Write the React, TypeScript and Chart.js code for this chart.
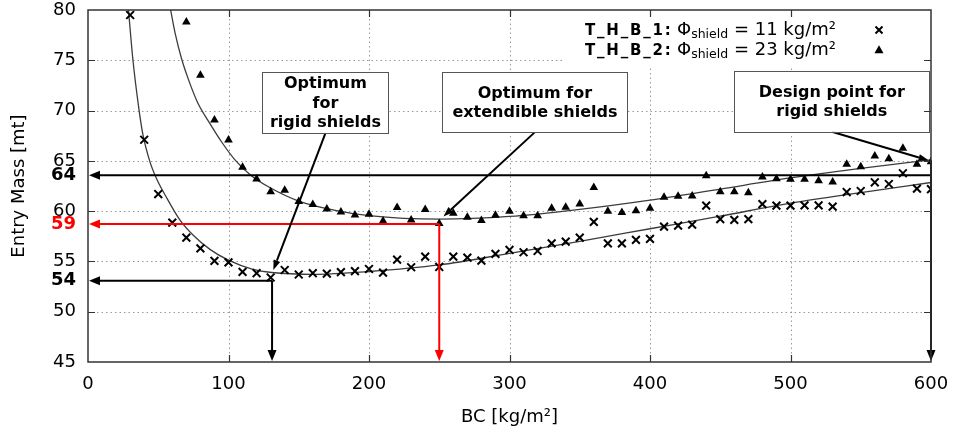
import React, { useEffect, useRef } from 'react';
import { Chart, registerables } from 'chart.js';

Chart.register(...registerables);

const FONT = "'DejaVu Sans', sans-serif";

// T_H_B_1 : Φshield = 11 kg/m² (× markers)
const bcShield11 = [30, 40, 50, 60, 70, 80, 90, 100, 110, 120, 130, 140, 150, 160, 170, 180, 190, 200, 210, 220, 230, 240, 250, 260, 270, 280, 290, 300, 310, 320, 330, 340, 350, 360, 370, 380, 390, 400, 410, 420, 430, 440, 450, 460, 470, 480, 490, 500, 510, 520, 530, 540, 550, 560, 570, 580, 590, 600];
const massShield11 = [79.5, 67.1, 61.7, 58.86, 57.37, 56.3, 55.05, 54.9, 53.96, 53.83, 53.4, 54.15, 53.7, 53.83, 53.79, 53.93, 54.03, 54.25, 53.89, 55.18, 54.42, 55.48, 54.45, 55.48, 55.38, 55.08, 55.75, 56.14, 55.91, 56.04, 56.8, 56.97, 57.37, 58.93, 56.8, 56.8, 57.14, 57.24, 58.46, 58.56, 58.66, 60.55, 59.2, 59.13, 59.2, 60.7, 60.55, 60.55, 60.58, 60.58, 60.45, 61.9, 62.0, 62.87, 62.7, 63.77, 62.24, 62.18];

// T_H_B_2 : Φshield = 23 kg/m² (▲ markers)
const bcShield23 = [70, 80, 90, 100, 110, 120, 130, 140, 150, 160, 170, 180, 190, 200, 210, 220, 230, 240, 250, 260, 270, 280, 290, 300, 310, 320, 330, 340, 350, 360, 370, 380, 390, 400, 410, 420, 430, 440, 450, 460, 470, 480, 490, 500, 510, 520, 530, 540, 550, 560, 570, 580, 590, 600];
const massShield23 = [78.8, 73.5, 69.07, 67.08, 64.36, 63.2, 61.94, 62.08, 60.95, 60.65, 60.22, 59.92, 59.62, 59.69, 59.03, 60.35, 59.13, 60.16, 58.76, 59.79, 59.39, 59.07, 59.59, 59.98, 59.55, 59.55, 60.29, 60.39, 60.72, 62.34, 59.98, 59.87, 60.05, 60.28, 61.38, 61.48, 61.51, 63.53, 61.94, 61.94, 61.84, 63.4, 63.23, 63.17, 63.17, 63.03, 62.9, 64.66, 64.42, 65.49, 65.22, 66.25, 64.66, 64.9];

// fitted curves
const fitBc11 = [28.8, 32.0, 35.9, 39.1, 44.1, 48.9, 55.3, 65.5, 74.9, 86.8, 99.6, 117.4, 130.7, 160, 200, 250, 300, 350, 400, 450, 500, 550, 600];
const fitMass11 = [80, 75, 70.5, 67.6, 64.9, 63.2, 61.5, 59.1, 57.6, 56.2, 55.15, 54.2, 53.9, 53.72, 54.0, 54.65, 55.8, 57.0, 58.25, 59.5, 60.8, 61.85, 62.85];
const fitBc23 = [58.8, 62, 66.5, 70.7, 78, 86.8, 95, 104.6, 116.5, 130, 150, 175, 200, 250, 300, 350, 400, 450, 500, 550, 600];
const fitMass23 = [80, 77.7, 75.2, 73.4, 70.8, 68.7, 66.9, 65.1, 63.5, 62.3, 61.0, 60.1, 59.55, 59.2, 59.47, 60.18, 61.1, 62.2, 63.3, 64.25, 65.1];

// axes
const xTickValues = [0, 100, 200, 300, 400, 500, 600];
const yTickValues = [45, 50, 55, 60, 65, 70, 75, 80];

// reference lines (marked optimum / design values)
const refMass = [63.56, 58.72, 53.08];
const refLabels = ['64', '59', '54'];
const refBc = [600, 250, 131];
const refTopMass = [65.05, 58.72, 53.08];
const refColors = ['#000000', '#ff0000', '#000000'];

// annotation boxes
const noteLines = [['Optimum', 'for', 'rigid shields'], ['Optimum for', 'extendible shields'], ['Design point for', 'rigid shields']];
const noteBc = [169.0, 318.1, 529.4];
const noteMass = [70.79, 70.84, 70.92];
const noteW = [126, 185, 195];
const noteH = [61, 60, 61];
const noteTipBc = [131.9, 253, 598.2];
const noteTipMass = [54.15, 59.47, 65.05];

// legend
const legendIds = ['T_H_B_1:', 'T_H_B_2:'];
const legendVals = [' = 11 kg/m²', ' = 23 kg/m²'];

function arrow(ctx: CanvasRenderingContext2D, x1: number, y1: number, x2: number, y2: number, color: string, lw: number, hl: number, hw: number) {
  const ang = Math.atan2(y2 - y1, x2 - x1);
  const bx = x2 - Math.cos(ang) * hl;
  const by = y2 - Math.sin(ang) * hl;
  ctx.strokeStyle = color;
  ctx.lineWidth = lw;
  ctx.setLineDash([]);
  ctx.beginPath();
  ctx.moveTo(x1, y1);
  ctx.lineTo(bx, by);
  ctx.stroke();
  ctx.fillStyle = color;
  ctx.beginPath();
  ctx.moveTo(x2, y2);
  ctx.lineTo(bx + Math.sin(ang) * hw / 2, by - Math.cos(ang) * hw / 2);
  ctx.lineTo(bx - Math.sin(ang) * hw / 2, by + Math.cos(ang) * hw / 2);
  ctx.closePath();
  ctx.fill();
}

const overlay = {
  id: 'overlay',
  beforeDatasetsDraw(chart: any) {
    const { ctx, chartArea: a, scales } = chart;
    const x = scales.x, y = scales.y;
    ctx.save();
    ctx.strokeStyle = '#9a9a9a';
    ctx.lineWidth = 1;
    ctx.setLineDash([1.5, 3]);
    xTickValues.slice(1, -1).forEach((v) => {
      const px = Math.round(x.getPixelForValue(v)) + 0.5;
      ctx.beginPath();
      ctx.moveTo(px, a.top);
      ctx.lineTo(px, a.bottom);
      ctx.stroke();
    });
    yTickValues.slice(1, -1).forEach((v) => {
      const py = Math.round(y.getPixelForValue(v)) + 0.5;
      ctx.beginPath();
      ctx.moveTo(a.left, py);
      ctx.lineTo(a.right, py);
      ctx.stroke();
    });
    ctx.restore();
  },
  afterDatasetsDraw(chart: any) {
    const { ctx, chartArea: a, scales } = chart;
    const x = scales.x, y = scales.y;
    ctx.save();

    // reference lines with arrows to the axes
    refMass.forEach((m, i) => {
      const px = x.getPixelForValue(refBc[i]);
      const py = y.getPixelForValue(m);
      arrow(ctx, px, py, a.left + 1, py, refColors[i], 2, 11, 9);
      arrow(ctx, px, y.getPixelForValue(refTopMass[i]), px, a.bottom - 1, refColors[i], 2, 11, 9);
    });

    // annotation boxes and arrows
    noteLines.forEach((lines, i) => {
      const cx = x.getPixelForValue(noteBc[i]);
      const cy = y.getPixelForValue(noteMass[i]);
      const w = noteW[i], h = noteH[i];
      const tx = x.getPixelForValue(noteTipBc[i]);
      const ty = y.getPixelForValue(noteTipMass[i]);
      arrow(ctx, cx, cy + h / 2, tx, ty, '#000', 2, 10, 7);
      ctx.fillStyle = '#ffffff';
      ctx.fillRect(cx - w / 2, cy - h / 2, w, h);
      ctx.strokeStyle = '#555';
      ctx.lineWidth = 1;
      ctx.strokeRect(Math.round(cx - w / 2) + 0.5, Math.round(cy - h / 2) + 0.5, w, h);
      ctx.fillStyle = '#000';
      ctx.font = `bold 16px ${FONT}`;
      ctx.textAlign = 'center';
      ctx.textBaseline = 'middle';
      const gap = 19.5;
      lines.forEach((t, k) => {
        ctx.fillText(t, cx, cy + (k - (lines.length - 1) / 2) * gap + 1);
      });
    });

    // legend
    const lx = a.right - 368, lw = 359, lh = 56;
    ctx.fillStyle = '#ffffff';
    ctx.fillRect(lx, a.top + 1, lw, lh);
    legendIds.forEach((id, i) => {
      const base = a.top + 25 + i * 20.3;
      ctx.fillStyle = '#000';
      ctx.textBaseline = 'alphabetic';
      ctx.textAlign = 'left';
      ctx.font = `bold 15px ${FONT}`;
      (ctx as any).letterSpacing = '1.8px';
      ctx.fillText(id, a.right - 346, base);
      (ctx as any).letterSpacing = '0px';
      let cx = a.right - 254;
      ctx.font = `18px ${FONT}`;
      ctx.fillText('Φ', cx, base);
      cx += ctx.measureText('Φ').width;
      ctx.font = `12.5px ${FONT}`;
      ctx.fillText('shield', cx, base + 2.5);
      cx += ctx.measureText('shield').width;
      ctx.font = `18px ${FONT}`;
      ctx.fillText(legendVals[i], cx, base);
      const sx = a.right - 52, sy = base - 5;
      if (i === 0) {
        ctx.strokeStyle = '#000';
        ctx.lineWidth = 2;
        ctx.beginPath();
        ctx.moveTo(sx - 3.5, sy - 3.5);
        ctx.lineTo(sx + 3.5, sy + 3.5);
        ctx.moveTo(sx + 3.5, sy - 3.5);
        ctx.lineTo(sx - 3.5, sy + 3.5);
        ctx.stroke();
      } else {
        ctx.fillStyle = '#000';
        ctx.beginPath();
        ctx.moveTo(sx, sy - 5);
        ctx.lineTo(sx + 4.5, sy + 3);
        ctx.lineTo(sx - 4.5, sy + 3);
        ctx.closePath();
        ctx.fill();
      }
    });

    // frame and inward ticks
    ctx.strokeStyle = '#333';
    ctx.lineWidth = 1.5;
    ctx.setLineDash([]);
    ctx.strokeRect(a.left, a.top, a.right - a.left, a.bottom - a.top);
    ctx.lineWidth = 1.2;
    const tl = 7;
    ctx.beginPath();
    xTickValues.slice(1, -1).forEach((v) => {
      const px = Math.round(x.getPixelForValue(v)) + 0.5;
      ctx.moveTo(px, a.bottom);
      ctx.lineTo(px, a.bottom - tl);
      ctx.moveTo(px, a.top);
      ctx.lineTo(px, a.top + tl);
    });
    yTickValues.slice(1, -1).forEach((v) => {
      const py = Math.round(y.getPixelForValue(v)) + 0.5;
      ctx.moveTo(a.left, py);
      ctx.lineTo(a.left + tl, py);
      ctx.moveTo(a.right, py);
      ctx.lineTo(a.right - tl, py);
    });
    ctx.stroke();
    ctx.restore();
  },
};

const allYTicks = [...yTickValues, ...refMass].sort((p, q) => p - q);

export default function App() {
  const ref = useRef<HTMLCanvasElement | null>(null);
  useEffect(() => {
    if (!ref.current) return;
    Chart.defaults.font.family = FONT;
    const chart = new Chart(ref.current, {
      type: 'scatter',
      data: {
        datasets: [
          {
            label: 'T_H_B_1',
            data: bcShield11.map((v, i) => ({ x: v, y: massShield11[i] })),
            pointStyle: 'crossRot',
            pointRadius: 5.5,
            pointBorderWidth: 2,
            borderColor: '#000',
            backgroundColor: '#000',
            showLine: false,
          },
          {
            label: 'T_H_B_2',
            data: bcShield23.map((v, i) => ({ x: v, y: massShield23[i] })),
            pointStyle: 'triangle',
            pointRadius: 5,
            pointBorderWidth: 0,
            borderColor: '#000',
            backgroundColor: '#000',
            showLine: false,
          },
          {
            label: 'fit1',
            data: fitBc11.map((v, i) => ({ x: v, y: fitMass11[i] })),
            showLine: true,
            pointRadius: 0,
            borderColor: '#3c3c3c',
            borderWidth: 1.3,
            cubicInterpolationMode: 'monotone',
          },
          {
            label: 'fit2',
            data: fitBc23.map((v, i) => ({ x: v, y: fitMass23[i] })),
            showLine: true,
            pointRadius: 0,
            borderColor: '#3c3c3c',
            borderWidth: 1.3,
            cubicInterpolationMode: 'monotone',
          },
        ],
      } as any,
      options: {
        responsive: false,
        animation: false,
        devicePixelRatio: 1,
        layout: { padding: { left: 0, right: 22, top: 10, bottom: 0 } },
        plugins: { legend: { display: false }, tooltip: { enabled: false } },
        scales: {
          x: {
            type: 'linear',
            min: 0,
            max: 600,
            grid: { display: false, drawTicks: false },
            border: { display: false },
            ticks: { stepSize: 100, color: '#000', font: { size: 18, family: FONT }, padding: 12, maxRotation: 0 },
            title: { display: true, text: 'BC [kg/m²]', color: '#000', font: { size: 18, family: FONT }, padding: { top: 0, bottom: 4 } },
            afterFit: (s: any) => { s.height = 70; s.paddingLeft = 0; s.paddingRight = 0; },
          },
          y: {
            type: 'linear',
            min: 45,
            max: 80,
            grid: { display: false, drawTicks: false },
            border: { display: false },
            afterBuildTicks: (s: any) => { s.ticks = allYTicks.map((v) => ({ value: v })); },
            ticks: {
              autoSkip: false,
              padding: 12,
              callback: (v: any) => {
                const i = refMass.indexOf(Number(v));
                return i >= 0 ? refLabels[i] : String(v);
              },
              color: (c: any) => {
                const i = c.tick ? refMass.indexOf(c.tick.value) : -1;
                return i >= 0 ? refColors[i] : '#000';
              },
              font: (c: any) => {
                const bold = c.tick ? refMass.indexOf(c.tick.value) >= 0 : false;
                return { size: 18, family: FONT, weight: bold ? 'bold' : 'normal', lineHeight: 1 };
              },
            },
            title: { display: true, text: 'Entry Mass [mt]', color: '#000', font: { size: 18, family: FONT }, padding: { top: 9, bottom: 0 } },
            afterFit: (s: any) => { s.width = 88; s.paddingTop = 0; s.paddingBottom = 0; },
          },
        },
      } as any,
      plugins: [overlay],
    });
    return () => chart.destroy();
  }, []);
  return (
    <div style={{ position: 'fixed', left: 0, top: 0, width: 953, height: 432, background: '#fff' }}>
      <canvas ref={ref} width={953} height={432} style={{ display: 'block', width: 953, height: 432 }} />
    </div>
  );
}
